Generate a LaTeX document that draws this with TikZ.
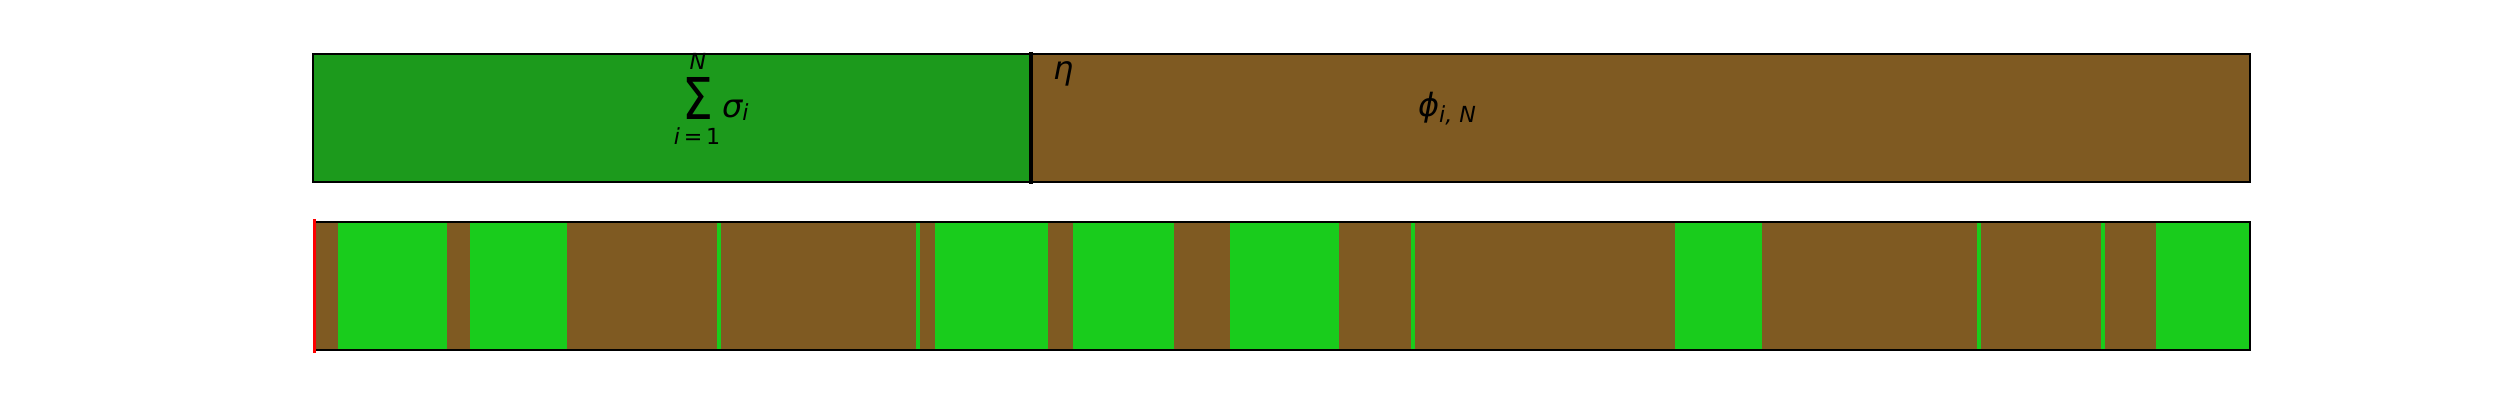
\documentclass[tikz,border=0pt]{standalone}
\usepackage{fontspec}
\setmainfont{DejaVu Sans}
\usepackage{graphicx}
\definecolor{gdark}{HTML}{1C9A1C}
\definecolor{gbright}{HTML}{19CC1C}
\definecolor{brownc}{HTML}{7F5A22}
\tikzset{
  barframe/.style={draw=black, line width=0.5pt},
  lbl/.style={inner sep=0pt, outer sep=0pt, text=black},
}
\newcommand{\bigtxt}{\fontsize{9.1}{10}\selectfont}
\newcommand{\subtxt}{\fontsize{6.3}{7}\selectfont}
\begin{document}
\begin{tikzpicture}[x=0.01cm, y=-0.01cm]
\useasboundingbox (0,0) rectangle (2500,400);
% top bar
\fill[gdark] (313,54) rectangle (1031,182);
\fill[brownc] (1031,54) rectangle (2250,182);
\draw[barframe] (313,54) rectangle (2250,182);
\coordinate (dtop) at (1031,51.7);
\coordinate (dbot) at (1031,184.3);
\draw[black, line width=1.4pt] (dtop) -- (dbot);
% labels top
\node[lbl, anchor=base west] (eta) at (1053,79.2) {\bigtxt\itshape η};
\node[lbl, anchor=base west] (phi) at (1418,116.4) {\bigtxt\itshape ϕ\raisebox{-1.8pt}{\subtxt\itshape i, N}};
\node[lbl, anchor=south west] (sig) at (682,119) {\resizebox{8.8pt}{11.95pt}{Σ}};
\node[lbl, anchor=base] (supN) at (698,69) {\subtxt\itshape N};
\node[lbl, anchor=base] (subi) at (697,144) {\subtxt{\itshape i}\,=\,1};
\node[lbl, anchor=base west] (sigma) at (722,117) {\bigtxt\itshape σ\raisebox{-1.1pt}{\subtxt\itshape i}};
% bottom bar
\fill[brownc] (315,222) rectangle (2250,350);
\foreach \a/\b in {338/447, 470/567, 717/721, 916/920, 935/1048, 1073/1174, 1230/1339, 1411/1415, 1675/1762, 1977/1981, 2101/2105, 2156/2250}
  \fill[gbright] (\a,222) rectangle (\b,350);
\draw[barframe] (315,222) rectangle (2250,350);
\coordinate (rtop) at (314.7,219);
\coordinate (rbot) at (314.7,352.7);
\draw[red, line width=0.8pt] (rtop) -- (rbot);
\end{tikzpicture}
\end{document}
